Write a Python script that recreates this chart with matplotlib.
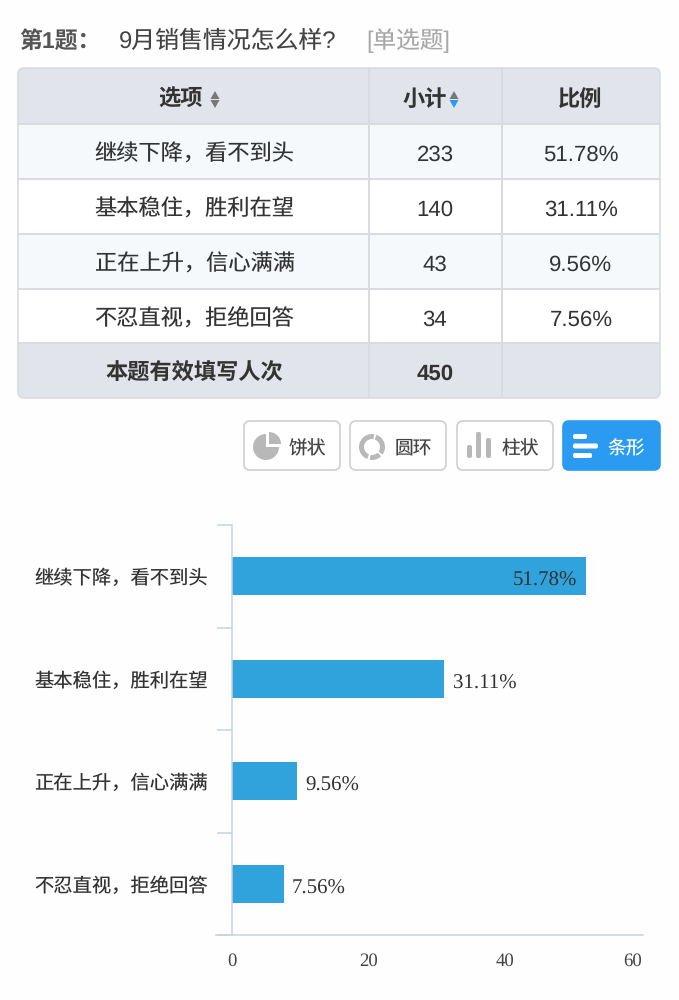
#!/usr/bin/env python3
import matplotlib

matplotlib.use("Agg")
import matplotlib.pyplot as plt
from matplotlib.patches import FancyBboxPatch, Polygon, Rectangle, Wedge

plt.rcParams["font.family"] = ["Liberation Sans", "Noto Sans CJK SC", "DejaVu Sans"]
plt.rcParams["text.hinting"] = "none"

options = ["继续下降，看不到头", "基本稳住，胜利在望", "正在上升，信心满满", "不忍直视，拒绝回答"]
counts = [233, 140, 43, 34]
percents = [51.78, 31.11, 9.56, 7.56]
total_label = "本题有效填写人次"
total_count = 450
headers = ["选项", "小计", "比例"]
button_labels = ["饼状", "圆环", "柱状", "条形"]
x_ticks = [0, 20, 40, 60]

width_px, height_px = 679, 1000
text_color = "#333333"
header_bg = "#e1e4ea"
line_color = "#d8dbe0"
bar_color = "#30a2dc"
axis_color = "#c5d3df"
icon_gray = "#b8b8b8"
blue = "#2b9bf2"

col_edges = [18, 369, 502, 660]
row_edges = [68, 124, 179, 234, 289, 343, 398]
button_edges = [(244, 340), (350, 446), (457, 553), (563, 660)]


def rounded(ax, x0, y0, x1, y1, radius, **kwargs):
    ax.add_patch(
        FancyBboxPatch(
            (x0 + radius, y0 + radius),
            x1 - x0 - 2 * radius,
            y1 - y0 - 2 * radius,
            boxstyle=f"round,pad={radius},rounding_size={radius}",
            **kwargs,
        )
    )


def draw_table(ax):
    left, right = col_edges[0], col_edges[-1]
    rounded(ax, left, row_edges[0], right, row_edges[1] + 8, 6, fc=header_bg, ec="none")
    rounded(ax, left, row_edges[5] - 8, right, row_edges[6], 6, fc=header_bg, ec="none")
    for i in range(1, 5):
        color = "#f5f9fc" if i in (1, 3) else "white"
        ax.add_patch(
            Rectangle((left, row_edges[i]), right - left, row_edges[i + 1] - row_edges[i], fc=color, ec="none")
        )
    for y in row_edges[1:-1]:
        ax.plot([left, right], [y, y], color=line_color, lw=1.4, solid_capstyle="butt")
    for x in col_edges[1:-1]:
        ax.plot([x, x], [row_edges[0], row_edges[-1]], color=line_color, lw=1.4, solid_capstyle="butt")
    rounded(ax, left, row_edges[0], right, row_edges[-1], 6, fc="none", ec=line_color, lw=1.2)

    centers = [(col_edges[i] + col_edges[i + 1]) / 2 for i in range(3)]
    header_x = [181, 425, 580]
    for x, label in zip(header_x, headers):
        ax.text(x, 106, label, fontsize=16, color=text_color, ha="center", va="baseline", fontweight="bold")
    # sort arrows next to the headers
    for x, down_color in [(215, "#777777"), (454, blue)]:
        ax.add_patch(Polygon([(x - 4.5, 99), (x + 4.5, 99), (x, 91)], fc="#777777", ec="none"))
        ax.add_patch(Polygon([(x - 4.5, 100), (x + 4.5, 100), (x, 108)], fc=down_color, ec="none"))

    for i, (label, count, pct) in enumerate(zip(options, counts, percents)):
        y = (row_edges[i + 1] + row_edges[i + 2]) / 2 + 9.5
        ax.text(centers[0] + 1, y, label, fontsize=16, color=text_color, ha="center", va="baseline")
        ax.text(435, y, str(count), fontsize=16, color=text_color, ha="center", va="baseline")
        ax.text(centers[2], y, f"{pct:.2f}%", fontsize=16, color=text_color, ha="center", va="baseline")
    y = (row_edges[5] + row_edges[6]) / 2 + 9
    ax.text(194, y, total_label, fontsize=16, color=text_color, ha="center", va="baseline", fontweight="bold")
    ax.text(435, y, str(total_count), fontsize=16, color=text_color, ha="center", va="baseline", fontweight="bold")


def draw_buttons(ax):
    for i, ((x0, x1), label) in enumerate(zip(button_edges, button_labels)):
        active = i == 3
        rounded(
            ax, x0, 421, x1, 470, 6,
            fc=blue if active else "white",
            ec=blue if active else "#cfcfcf",
            lw=1.2,
        )
        ax.text(
            x0 + 63, 454, label, fontsize=13.5, ha="center", va="baseline",
            color="white" if active else "#444444",
        )
    # pie icon
    ax.add_patch(Wedge((266, 447), 13, 0, 270, fc=icon_gray, ec="none"))
    ax.add_patch(Wedge((269, 444), 12, 270, 360, fc=icon_gray, ec="none"))
    # ring icon
    for start, end in [(-70, 35), (45, 100), (112, 280)]:
        ax.add_patch(Wedge((372, 447), 13, start, end, width=5, fc=icon_gray, ec="none"))
    # column icon
    for x, top in [(467, 445), (476, 432), (486, 438)]:
        rounded(ax, x, top, x + 5, 458, 2, fc=icon_gray, ec="none")
    # bar icon
    for y, x1 in [(434, 587), (443.5, 598), (453, 592)]:
        rounded(ax, 573, y, x1, y + 5, 2, fc="white", ec="none")


fig = plt.figure(figsize=(width_px / 100, height_px / 100), dpi=100, facecolor="#fefefe")

overlay = fig.add_axes([0, 0, 1, 1])
overlay.set_xlim(0, width_px)
overlay.set_ylim(height_px, 0)
overlay.axis("off")

overlay.text(19, 48, "第1题：", fontsize=16.5, color="#555555", va="baseline", fontweight="bold")
overlay.text(119, 48, "9月销售情况怎么样?", fontsize=17.2, color="#444444", va="baseline")
overlay.text(366, 48, "[单选题]", fontsize=17, color="#a8a8a8", va="baseline")
draw_table(overlay)
draw_buttons(overlay)

# chart occupies pixels x 232-643, y 525-935
ax = fig.add_axes(
    [232 / width_px, 1 - 935 / height_px, (643 - 232) / width_px, (935 - 525) / height_px],
    facecolor="none",
)
positions = list(range(len(options)))
ax.barh(positions, percents, height=0.37, color=bar_color)
ax.set_xlim(0, 60.2)
ax.set_ylim(len(options) - 0.5, -0.5)

for spine in ("top", "right"):
    ax.spines[spine].set_visible(False)
for spine in ("left", "bottom"):
    ax.spines[spine].set_color(axis_color)
    ax.spines[spine].set_linewidth(1.1)
ax.plot([-16 / 6.83, 0], [len(options) - 0.5] * 2, color=axis_color, lw=1.1, clip_on=False)

ax.set_yticks([p - 0.5 for p in positions] + [len(options) - 0.5])
ax.set_yticklabels([])
ax.tick_params(axis="y", length=11, width=1.1, color=axis_color)
for p, label in zip(positions, options):
    ax.annotate(
        label, xy=(0, p), xytext=(-17.5, -5.8), textcoords="offset points",
        ha="right", va="baseline", fontsize=13.9, color=text_color,
    )

ax.set_xticks(x_ticks)
ax.set_xticklabels(
    [str(t) for t in x_ticks], family="Liberation Serif", fontsize=13.5, color="#444444"
)
ax.tick_params(axis="x", length=0, pad=13)
ax.get_xticklabels()[-1].set_ha("right")

for p, pct in zip(positions, percents):
    text = f"{pct:.2f}%"
    inside = pct > 40
    ax.annotate(
        text, xy=(pct, p), xytext=(-6 if inside else 6, -3.5), textcoords="offset points",
        ha="right" if inside else "left", va="center",
        family="Liberation Serif", fontsize=15, color=text_color,
    )

fig.savefig("out.png", dpi=100, facecolor=fig.get_facecolor())
